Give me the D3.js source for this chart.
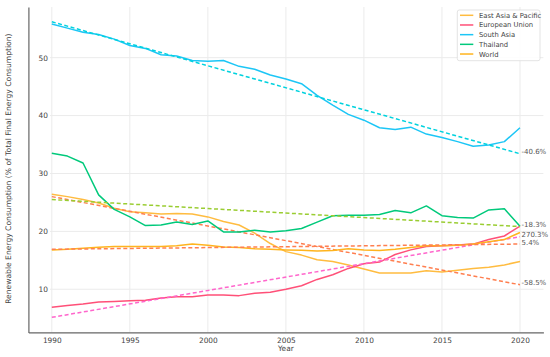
<!DOCTYPE html>
<html>
<head>
<meta charset="utf-8">
<script src="https://cdn.jsdelivr.net/npm/d3@7"></script>
<style>
  html, body { margin: 0; padding: 0; background: #fff; }
  svg { display: block; font-family: "DejaVu Sans", sans-serif; }
</style>
</head>
<body>
<svg id="chart" width="550" height="357"></svg>
<script>
const years = d3.range(1990, 2021);

const seriesNames = ["East Asia & Pacific", "European Union", "South Asia", "Thailand", "World"];

const eastAsiaPacific = [26.4, 26.0, 25.5, 24.9, 24.0, 23.4, 23.2, 23.0, 23.1, 23.0, 22.5, 21.7, 21.1, 19.7, 17.9, 16.5, 15.9, 15.1, 14.8, 14.2, 13.5, 12.8, 12.8, 12.8, 13.2, 13.0, 13.3, 13.6, 13.8, 14.2, 14.8];
const europeanUnion = [6.9, 7.2, 7.45, 7.8, 7.9, 8.0, 8.1, 8.5, 8.7, 8.7, 9.0, 9.0, 8.9, 9.3, 9.5, 10.0, 10.6, 11.7, 12.5, 13.6, 14.4, 14.7, 16.0, 16.8, 17.4, 17.5, 17.65, 17.8, 18.6, 19.2, 20.9];
const southAsia = [55.8, 55.1, 54.4, 54.0, 53.2, 52.1, 51.6, 50.5, 50.3, 49.5, 49.4, 49.5, 48.5, 48.0, 47.0, 46.3, 45.5, 43.5, 41.8, 40.2, 39.2, 37.9, 37.6, 38.0, 36.8, 36.2, 35.5, 34.7, 34.9, 35.5, 37.9];
const thailand = [33.5, 33.0, 31.8, 26.3, 23.8, 22.5, 21.0, 21.1, 21.6, 21.2, 21.8, 19.9, 19.9, 20.2, 19.9, 20.1, 20.5, 21.6, 22.7, 22.8, 22.8, 22.9, 23.6, 23.2, 24.4, 22.7, 22.4, 22.3, 23.7, 23.9, 20.9];
const world = [16.8, 16.9, 17.1, 17.25, 17.4, 17.4, 17.4, 17.4, 17.5, 17.8, 17.6, 17.3, 17.2, 17.0, 16.9, 16.8, 16.75, 16.6, 16.7, 17.0, 16.8, 16.7, 16.9, 17.2, 17.5, 17.5, 17.6, 17.8, 18.2, 18.6, 19.8];

// Trend lines (fitted line endpoints, 1990 and 2020) and percent-change labels
const trendStart = [26.0, 5.15, 56.2, 25.5, 16.9];
const trendEnd = [10.79, 19.07, 33.4, 20.83, 17.81];
const trendLabels = ["-58.5%", "270.3%", "-40.6%", "-18.3%", "5.4%"];

const xTicks = [1990, 1995, 2000, 2005, 2010, 2015, 2020];
const yTicks = [10, 20, 30, 40, 50];

const seriesValues = [eastAsiaPacific, europeanUnion, southAsia, thailand, world];
const lineColors = ["#FFBC40", "#FF5078", "#1CC6F6", "#00C97B", "#FFB41E"];
const trendColors = ["#FF7F50", "#FF66CC", "#00D2DE", "#9ACD32", "#FF7F50"];

const svg = d3.select("#chart");
const x = d3.scaleLinear().domain([1988.5, 2021.5]).range([28.4, 543.4]);
const y = d3.scaleLinear().domain([2.55, 58.75]).range([332.4, 7]);

// Grid
const grid = svg.append("g");
grid.selectAll("line.vg").data(xTicks).join("line")
  .attr("x1", d => x(d)).attr("x2", d => x(d))
  .attr("y1", y(58.75)).attr("y2", y(2.55))
  .attr("stroke", "#ebebeb").attr("stroke-width", 1);
grid.selectAll("line.hg").data(yTicks).join("line")
  .attr("x1", 50).attr("x2", x(2021.5))
  .attr("y1", d => y(d)).attr("y2", d => y(d))
  .attr("stroke", "#ebebeb").attr("stroke-width", 1);

// Axes
const xAxis = d3.axisBottom(x).tickValues(xTicks).tickFormat(d3.format("d")).tickSize(0).tickPadding(5);
const gx = svg.append("g").attr("transform", `translate(0,${y(2.55)})`).call(xAxis);
gx.select(".domain").attr("stroke", "#666").attr("stroke-width", 1.2);
gx.selectAll("text").attr("fill", "#444").attr("font-size", 7.4).attr("font-family", "DejaVu Sans");

const yAxis = d3.axisLeft(y).tickValues(yTicks).tickSize(0).tickPadding(0);
const gy = svg.append("g").attr("transform", `translate(${x(1988.5)},0)`).call(yAxis);
gy.select(".domain").attr("stroke", "#666").attr("stroke-width", 1.2);
gy.selectAll("text").attr("fill", "#444").attr("font-size", 7.4).attr("font-family", "DejaVu Sans")
  .attr("text-anchor", "end").attr("x", 48 - x(1988.5));

// Axis titles
svg.append("text").attr("x", x(2005)).attr("y", 351)
  .attr("text-anchor", "middle").attr("fill", "#444").attr("font-size", 7.4).text("Year");
svg.append("text").attr("transform", `translate(10.5,${(y(2.55) + y(58.75)) / 2 - 1}) rotate(-90)`)
  .attr("text-anchor", "middle").attr("fill", "#444").attr("font-size", 7.6)
  .text("Renewable Energy Consumption (% of Total Final Energy Consumption)");

// Lines
const line = d3.line().x((d, i) => x(years[i])).y(d => y(d));
const plot = svg.append("g");
seriesValues.forEach((vals, k) => {
  plot.append("path").datum(vals).attr("d", line)
    .attr("fill", "none").attr("stroke", lineColors[k]).attr("stroke-width", 1.5)
    .attr("stroke-linejoin", "round");
  plot.append("line")
    .attr("x1", x(years[0])).attr("y1", y(trendStart[k]))
    .attr("x2", x(years[years.length - 1])).attr("y2", y(trendEnd[k]))
    .attr("stroke", trendColors[k]).attr("stroke-width", 1.5).attr("stroke-dasharray", "4,2.5");
  plot.append("text")
    .attr("x", x(2020) + 1.5).attr("y", y(trendEnd[k]) + 0.5)
    .attr("fill", "#555").attr("font-size", 7).text(trendLabels[k]);
});

// Legend
const lg = svg.append("g");
lg.append("rect").attr("x", 457.3).attr("y", 10).attr("width", 82.7).attr("height", 50.7)
  .attr("rx", 2).attr("fill", "#fff").attr("fill-opacity", 0.85)
  .attr("stroke", "#dcdcdc").attr("stroke-width", 0.8);
seriesNames.forEach((name, k) => {
  const yy = 15.3 + k * 9.68;
  lg.append("line").attr("x1", 460).attr("x2", 473.3).attr("y1", yy).attr("y2", yy)
    .attr("stroke", lineColors[k]).attr("stroke-width", 1.5);
  lg.append("text").attr("x", 479).attr("y", yy + 2.5)
    .attr("fill", "#444").attr("font-size", 6.8).text(name);
});
</script>
</body>
</html>
